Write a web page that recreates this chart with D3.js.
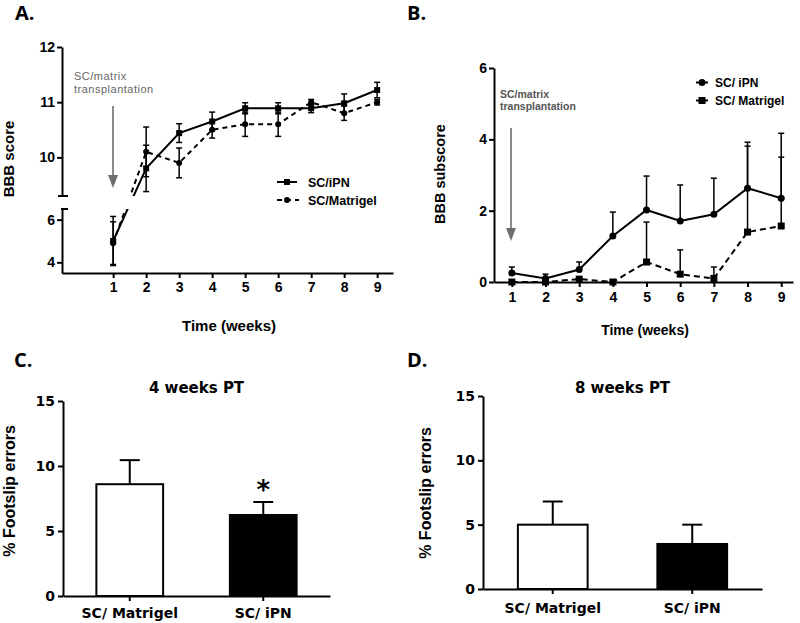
<!DOCTYPE html>
<html><head><meta charset="utf-8">
<script src="https://cdn.jsdelivr.net/npm/d3@7"></script>
<style>body{margin:0;background:#fff}</style>
</head><body><svg id="c" width="800" height="623"></svg>
<script>
// ---------------- DATA ----------------
const weeks = [1, 2, 3, 4, 5, 6, 7, 8, 9];
const xTickLabels = ["1", "2", "3", "4", "5", "6", "7", "8", "9"];

// Panel A: BBB score
const aIpnMean = [5.0, 9.8, 10.44, 10.65, 10.89, 10.89, 10.89, 10.98, 11.22];
const aIpnErr  = [1.15, 0.42, 0.17, 0.17, 0.1, 0.1, 0.08, 0.17, 0.14];
const aMatMean = [4.9, 10.1, 9.9, 10.5, 10.6, 10.6, 11.0, 10.8, 11.0];
const aMatErr  = [1.0, 0.45, 0.27, 0.15, 0.22, 0.22, 0.05, 0.13, 0.05];
const aTicksUpper = [10, 11, 12];
const aTicksLower = [4, 6];

// Panel B: BBB subscore
const bIpnMean = [0.25, 0.1, 0.35, 1.29, 2.02, 1.71, 1.9, 2.63, 2.35];
const bIpnErr  = [0.17, 0.12, 0.21, 0.67, 0.95, 1.01, 1.01, 1.29, 1.82];
const bMatMean = [0, 0, 0.08, 0, 0.56, 0.22, 0.1, 1.4, 1.57];
const bMatErr  = [0, 0, 0.05, 0, 1.12, 0.68, 0.32, 2.41, 1.93];
const bTicks = [0, 2, 4, 6];

// Panels C & D: % Footslip errors
const groups = ["SC/ Matrigel", "SC/ iPN"];
const cMean = [8.6, 6.23];
const cErr  = [1.85, 1.0];
const dMean = [5.0, 3.5];
const dErr  = [1.8, 1.5];
const barTicks = [0, 5, 10, 15];

// ---------------- DRAW ----------------
const svg = d3.select("#c");
const ARIAL = "'Liberation Sans', Arial, sans-serif";
const DJV = "'DejaVu Sans', sans-serif";
const LET = "'Open Sans', sans-serif";
const fmt = d3.format("d");

function styleAxis(g, font, size) {
  g.selectAll("path, line").attr("stroke", "#000").attr("stroke-width", 2);
  g.selectAll("text").attr("font-family", font).attr("font-size", size)
    .attr("font-weight", "bold").attr("fill", "#000");
  g.attr("font-family", null).attr("font-size", null);
}
function text(x, y, s, o = {}) {
  const t = svg.append("text").attr("x", x).attr("y", y).text(s)
    .attr("font-family", o.font || ARIAL).attr("font-size", o.size || 14)
    .attr("font-weight", o.weight || "bold").attr("fill", o.fill || "#000")
    .attr("text-anchor", o.anchor || "start");
  if (o.ls) t.attr("letter-spacing", o.ls);
  if (o.rotate) t.attr("transform", `rotate(-90,${x},${y})`);
  return t;
}
function errBars(g, xs, ys, means, errs, both, cap) {
  weeks.forEach((w, i) => {
    if (errs[i] <= 0) return;
    const x = xs(w), yt = ys(means[i] + errs[i]);
    const yb = both ? ys(means[i] - errs[i]) : ys(means[i]);
    g.append("line").attr("x1", x).attr("x2", x).attr("y1", yt).attr("y2", yb)
      .attr("stroke", "#000").attr("stroke-width", 1.5);
    g.append("line").attr("x1", x - cap).attr("x2", x + cap).attr("y1", yt).attr("y2", yt)
      .attr("stroke", "#000").attr("stroke-width", 1.5);
    if (both) g.append("line").attr("x1", x - cap).attr("x2", x + cap).attr("y1", yb).attr("y2", yb)
      .attr("stroke", "#000").attr("stroke-width", 1.5);
  });
}
function arrow(x, y1, y2) {
  svg.append("line").attr("x1", x).attr("x2", x).attr("y1", y1).attr("y2", y2 - 10)
    .attr("stroke", "#6e6e6e").attr("stroke-width", 1.6);
  svg.append("path").attr("d", `M${x - 5},${y2 - 13}L${x + 5},${y2 - 13}L${x},${y2}Z`).attr("fill", "#6e6e6e");
}

// ===== Panel A =====
const xA = d3.scaleLinear().domain([-0.55, 9.48]).range([62, 393]);
const yAUp = d3.scaleLinear().domain([9.3, 12]).range([196, 47]);
const yALo = d3.scaleLinear().domain([3.5, 6.5]).range([273, 209]);
const yA = v => v >= 8 ? yAUp(v) : yALo(v);

const defs = svg.append("defs");
const cp = defs.append("clipPath").attr("id", "gapA");
cp.append("rect").attr("x", 0).attr("y", 0).attr("width", 800).attr("height", 196);
cp.append("rect").attr("x", 0).attr("y", 209).attr("width", 800).attr("height", 414);

const gA = svg.append("g");
const lineA = d3.line().x((d, i) => xA(weeks[i])).y(d => yA(d));
gA.append("path").datum(aIpnMean).attr("d", lineA).attr("fill", "none")
  .attr("stroke", "#000").attr("stroke-width", 2).attr("clip-path", "url(#gapA)");
gA.append("path").datum(aMatMean).attr("d", lineA).attr("fill", "none")
  .attr("stroke", "#000").attr("stroke-width", 2).attr("stroke-dasharray", "5,4").attr("clip-path", "url(#gapA)");
errBars(gA, xA, yA, aIpnMean, aIpnErr, true, 3);
errBars(gA, xA, yA, aMatMean, aMatErr, true, 3);
gA.selectAll(".sqA").data(aIpnMean).enter().append("rect")
  .attr("x", (d, i) => xA(weeks[i]) - 3).attr("y", d => yA(d) - 3).attr("width", 6).attr("height", 6).attr("fill", "#000");
gA.selectAll(".ciA").data(aMatMean).enter().append("circle")
  .attr("cx", (d, i) => xA(weeks[i])).attr("cy", d => yA(d)).attr("r", 3).attr("fill", "#000");

const axAU = svg.append("g").attr("transform", "translate(62,0)")
  .call(d3.axisLeft(yAUp).tickValues(aTicksUpper).tickFormat(fmt).tickSize(5).tickSizeOuter(0).tickPadding(2));
styleAxis(axAU, ARIAL, 14);
const axAL = svg.append("g").attr("transform", "translate(62,0)")
  .call(d3.axisLeft(yALo).tickValues(aTicksLower).tickFormat(fmt).tickSize(5).tickSizeOuter(0).tickPadding(2));
styleAxis(axAL, ARIAL, 14);
svg.append("line").attr("x1", 58).attr("x2", 68).attr("y1", 196).attr("y2", 196).attr("stroke", "#000").attr("stroke-width", 2);
svg.append("line").attr("x1", 61).attr("x2", 68).attr("y1", 209).attr("y2", 209).attr("stroke", "#000").attr("stroke-width", 2);
const axAX = svg.append("g").attr("transform", "translate(0,273)")
  .call(d3.axisBottom(xA).tickValues(weeks).tickFormat((d, i) => xTickLabels[i]).tickSize(5).tickSizeOuter(0).tickPadding(4));
styleAxis(axAX, ARIAL, 14);

text(14, 159, "BBB score", { size: 15, anchor: "middle", rotate: true });
text(229, 331, "Time (weeks)", { size: 15, anchor: "middle" });
text(15, 20, "A.", { font: LET, size: 20 });
arrow(113, 106, 188);
text(74, 80, "SC/matrix", { size: 11, weight: "normal", fill: "#666", ls: 0.5 });
text(74, 93, "transplantation", { size: 11, weight: "normal", fill: "#666", ls: 0.5 });
// legend A
svg.append("line").attr("x1", 277).attr("x2", 297).attr("y1", 182).attr("y2", 182).attr("stroke", "#000").attr("stroke-width", 2);
svg.append("rect").attr("x", 284).attr("y", 179).attr("width", 6).attr("height", 6).attr("fill", "#000");
svg.append("line").attr("x1", 277).attr("x2", 299).attr("y1", 200).attr("y2", 200).attr("stroke", "#000").attr("stroke-width", 2).attr("stroke-dasharray", "5,4");
svg.append("circle").attr("cx", 287).attr("cy", 200).attr("r", 3).attr("fill", "#000");
text(308, 187, "SC/iPN", { size: 12.5 });
text(308, 205, "SC/Matrigel", { size: 12.5 });

// ===== Panel B =====
const xB = d3.scaleLinear().domain([0.47, 9.35]).range([494, 793]);
const yB = d3.scaleLinear().domain([0, 6]).range([282, 68]);
const gB = svg.append("g");
const lineB = d3.line().x((d, i) => xB(weeks[i])).y(d => yB(d));
gB.append("path").datum(bIpnMean).attr("d", lineB).attr("fill", "none").attr("stroke", "#000").attr("stroke-width", 2);
gB.append("path").datum(bMatMean).attr("d", lineB).attr("fill", "none").attr("stroke", "#000")
  .attr("stroke-width", 2).attr("stroke-dasharray", "6,4");
errBars(gB, xB, yB, bIpnMean, bIpnErr, false, 3);
errBars(gB, xB, yB, bMatMean, bMatErr, false, 3);
gB.selectAll(".ciB").data(bIpnMean).enter().append("circle")
  .attr("cx", (d, i) => xB(weeks[i])).attr("cy", d => yB(d)).attr("r", 3.5).attr("fill", "#000");
gB.selectAll(".sqB").data(bMatMean).enter().append("rect")
  .attr("x", (d, i) => xB(weeks[i]) - 3.5).attr("y", d => yB(d) - 3.5).attr("width", 7).attr("height", 7).attr("fill", "#000");

const axBY = svg.append("g").attr("transform", "translate(494,0)")
  .call(d3.axisLeft(yB).tickValues(bTicks).tickFormat(fmt).tickSize(5).tickSizeOuter(0).tickPadding(2));
styleAxis(axBY, ARIAL, 14);
const axBX = svg.append("g").attr("transform", "translate(0,282)")
  .call(d3.axisBottom(xB).tickValues(weeks).tickFormat((d, i) => xTickLabels[i]).tickSize(5).tickSizeOuter(0).tickPadding(5));
styleAxis(axBX, ARIAL, 14);
text(445, 224, "BBB subscore", { size: 14.5, rotate: true });
text(645, 335, "Time (weeks)", { size: 14, anchor: "middle" });
text(407, 20, "B.", { font: LET, size: 20 });
arrow(511, 128, 241);
text(500, 98, "SC/matrix", { size: 10.5, fill: "#555" });
text(500, 110, "transplantation", { size: 10.5, fill: "#555" });
// legend B
svg.append("line").attr("x1", 696).attr("x2", 708).attr("y1", 82.5).attr("y2", 82.5).attr("stroke", "#000").attr("stroke-width", 2);
svg.append("circle").attr("cx", 702).attr("cy", 82.5).attr("r", 3.5).attr("fill", "#000");
svg.append("line").attr("x1", 696).attr("x2", 708).attr("y1", 100.5).attr("y2", 100.5).attr("stroke", "#000").attr("stroke-width", 2);
svg.append("rect").attr("x", 698.5).attr("y", 97).attr("width", 7).attr("height", 7).attr("fill", "#000");
text(715, 87, "SC/ iPN", { size: 12 });
text(715, 105, "SC/ Matrigel", { size: 12 });

// ===== Bar panels =====
function barPanel(o) {
  const x = d3.scaleBand().domain(groups).range([o.x0, o.x1]).paddingInner(0.5).paddingOuter(0.25);
  const y = d3.scaleLinear().domain([0, 15]).range([o.y0, o.y1]);
  const g = svg.append("g");
  groups.forEach((k, i) => {
    const cx = x(k) + x.bandwidth() / 2;
    g.append("line").attr("x1", cx).attr("x2", cx).attr("y1", y(o.mean[i])).attr("y2", y(o.mean[i] + o.err[i]))
      .attr("stroke", "#000").attr("stroke-width", 2);
    g.append("line").attr("x1", cx - 10).attr("x2", cx + 10).attr("y1", y(o.mean[i] + o.err[i])).attr("y2", y(o.mean[i] + o.err[i]))
      .attr("stroke", "#000").attr("stroke-width", 2);
    g.append("rect").attr("x", x(k)).attr("y", y(o.mean[i])).attr("width", x.bandwidth())
      .attr("height", y(0) - y(o.mean[i])).attr("fill", i === 0 ? "#fff" : "#000")
      .attr("stroke", "#000").attr("stroke-width", 2);
  });
  const ay = svg.append("g").attr("transform", `translate(${o.x0},0)`)
    .call(d3.axisLeft(y).tickValues(barTicks).tickFormat(fmt).tickSize(5).tickSizeOuter(0).tickPadding(3));
  styleAxis(ay, DJV, 14);
  const ax = svg.append("g").attr("transform", `translate(0,${o.y0})`)
    .call(d3.axisBottom(x).tickSize(5).tickSizeOuter(0).tickPadding(o.pad));
  styleAxis(ax, DJV, 14);
  text((o.x0 + o.x1) / 2, 393, o.title, { font: DJV, size: 15, anchor: "middle" });
  text(o.ylx, o.yly, "% Footslip errors", { size: 16, anchor: "middle", rotate: true });
  text(o.lx, 367, o.letter, { font: LET, size: 20 });
  return { x, y };
}
const C = barPanel({ x0: 63, x1: 330, y0: 596, y1: 401, mean: cMean, err: cErr, title: "4 weeks PT",
  pad: 7, ylx: 15, yly: 491, lx: 14, letter: "C." });
barPanel({ x0: 483, x1: 762, y0: 589, y1: 396, mean: dMean, err: dErr, title: "8 weeks PT",
  pad: 9, ylx: 431, yly: 493, lx: 407, letter: "D." });
// significance star
text(C.x("SC/ iPN") + C.x.bandwidth() / 2, C.y(cMean[1] + cErr[1]) - 3, "*", { font: DJV, size: 26, anchor: "middle" });
</script></body></html>
